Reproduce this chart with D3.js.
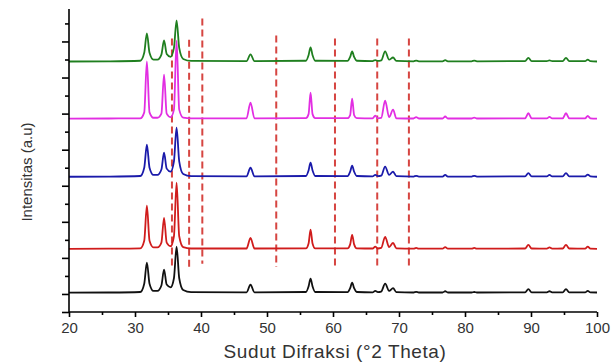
<!DOCTYPE html>
<html>
<head>
<meta charset="utf-8">
<script src="https://d3js.org/d3.v7.min.js"></script>
<style>
  body { margin: 0; background: #fff; }
  svg { display: block; font-family: "Liberation Sans", Arial, sans-serif; }
  .axis path, .axis line { stroke: #000; stroke-width: 1.6; }
  .axis text { fill: #333; font-size: 15px; }
</style>
</head>
<body>
<svg id="chart" width="612" height="363"></svg>
<script>
// 2 theta sample points (shared by all patterns)
var twoTheta = [20, 26, 30.8, 31.4, 31.8, 32.2, 32.8, 33.4, 34.0, 34.4, 34.8, 35.4, 35.9, 36.3, 36.7, 37.3, 38.5,
  46.9, 47.5, 48.1,
  55.9, 56.3, 56.6, 56.9, 57.3,
  62.2, 62.6, 62.9, 63.2, 63.6,
  66.0, 66.4, 66.8,
  67.3, 67.9, 68.5, 69.1, 69.6,
  72.2, 72.6, 73.0,
  76.6, 77.0, 77.4,
  81.0, 81.4, 81.8,
  89.1, 89.6, 90.1,
  92.4, 92.8, 93.2,
  94.8, 95.3, 95.8,
  98.2, 98.6, 99.0,
  100];

// intensities (a.u.) above each pattern's own baseline
var black = [0, 0.01, 0.04, 0.5, 1.67, 0.5, 0.1, 0.1, 0.4, 1.28, 0.45, 0.3, 0.8, 2.56, 0.8, 0.15, 0.03,
  0.02, 0.44, 0.02,
  0.04, 0.35, 0.78, 0.35, 0.04,
  0.03, 0.25, 0.56, 0.25, 0.04,
  0.02, 0.1, 0.03,
  0.06, 0.5, 0.1, 0.25, 0.03,
  0.01, 0.05, 0.01,
  0.01, 0.08, 0.01,
  0.01, 0.04, 0.01,
  0.02, 0.2, 0.02,
  0.02, 0.08, 0.02,
  0.02, 0.2, 0.02,
  0.02, 0.1, 0.02,
  0.01];
var red = [0, 0.01, 0.03, 0.45, 2.39, 0.45, 0.08, 0.08, 0.35, 1.72, 0.35, 0.15, 0.7, 3.67, 0.7, 0.1, 0.02,
  0.02, 0.61, 0.02,
  0.03, 0.3, 1.06, 0.3, 0.03,
  0.03, 0.25, 0.78, 0.25, 0.03,
  0.02, 0.12, 0.02,
  0.05, 0.67, 0.1, 0.33, 0.03,
  0.01, 0.05, 0.01,
  0.01, 0.1, 0.01,
  0.01, 0.05, 0.01,
  0.02, 0.22, 0.02,
  0.01, 0.08, 0.01,
  0.02, 0.22, 0.02,
  0.01, 0.12, 0.01,
  0];
var blue = [0, 0.01, 0.04, 0.5, 1.78, 0.5, 0.1, 0.1, 0.4, 1.33, 0.45, 0.28, 0.85, 2.72, 0.85, 0.15, 0.03,
  0.02, 0.5, 0.02,
  0.04, 0.35, 0.78, 0.35, 0.04,
  0.03, 0.28, 0.61, 0.28, 0.04,
  0.02, 0.1, 0.03,
  0.06, 0.56, 0.1, 0.28, 0.03,
  0.01, 0.05, 0.01,
  0.01, 0.1, 0.01,
  0.01, 0.05, 0.01,
  0.02, 0.2, 0.02,
  0.02, 0.1, 0.02,
  0.02, 0.2, 0.02,
  0.02, 0.12, 0.02,
  0];
var magenta = [0, 0.01, 0.02, 0.35, 3.17, 0.35, 0.05, 0.05, 0.28, 2.44, 0.28, 0.08, 0.5, 4.33, 0.5, 0.06, 0.02,
  0.02, 0.89, 0.02,
  0.03, 0.25, 1.44, 0.25, 0.03,
  0.03, 0.2, 1.11, 0.2, 0.03,
  0.02, 0.17, 0.02,
  0.04, 1.0, 0.08, 0.5, 0.02,
  0.01, 0.08, 0.01,
  0.01, 0.12, 0.01,
  0.01, 0.06, 0.01,
  0.02, 0.3, 0.02,
  0.02, 0.1, 0.02,
  0.02, 0.3, 0.02,
  0.02, 0.15, 0.02,
  0];
var green = [0, 0.01, 0.04, 0.48, 1.56, 0.48, 0.1, 0.1, 0.38, 1.17, 0.42, 0.26, 0.75, 2.28, 0.75, 0.14, 0.03,
  0.02, 0.39, 0.02,
  0.04, 0.35, 0.78, 0.35, 0.04,
  0.03, 0.25, 0.56, 0.25, 0.04,
  0.02, 0.08, 0.03,
  0.06, 0.56, 0.1, 0.22, 0.03,
  0.01, 0.05, 0.01,
  0.01, 0.08, 0.01,
  0.01, 0.05, 0.01,
  0.02, 0.2, 0.02,
  0.02, 0.06, 0.02,
  0.02, 0.2, 0.02,
  0.02, 0.1, 0.02,
  0];

// vertical stacking offset of each pattern (a.u.)
var offsets = [1.07, 3.5, 7.5, 10.72, 13.89];
var seriesColors = ["#111111", "#d01c1c", "#1a1aaa", "#e22ee2", "#1f7f1f"];

// red dashed reference lines
var refPos = [35.6, 38.2, 40.2, 51.4, 60.3, 66.7, 71.5];
var refTop = [15.17, 15.1, 16.28, 15.33, 15.17, 15.17, 15.17];
var refBottom = [2.5, 2.4, 2.67, 2.5, 2.4, 2.4, 2.45];

var xTicks = d3.range(20, 101, 5);
var yTicks = d3.range(0, 17, 1);

var svg = d3.select("#chart");
var x = d3.scaleLinear().domain([20, 100]).range([69, 597]);
var y = d3.scaleLinear().domain([0, 16.8]).range([312, 9]);

// dashed lines
svg.append("g").selectAll("line")
  .data(refPos)
  .enter().append("line")
    .attr("x1", function (d) { return x(d); })
    .attr("x2", function (d) { return x(d); })
    .attr("y1", function (d, i) { return y(refTop[i]); })
    .attr("y2", function (d, i) { return y(refBottom[i]); })
    .attr("stroke", "#d64541")
    .attr("stroke-width", 2)
    .attr("stroke-dasharray", "7,4");

// patterns
var series = [black, red, blue, magenta, green];
var line = d3.line()
  .curve(d3.curveMonotoneX);

series.forEach(function (vals, k) {
  line.x(function (d, i) { return x(twoTheta[i]); })
      .y(function (d) { return y(d + offsets[k]); });
  svg.append("path")
    .datum(vals)
    .attr("fill", "none")
    .attr("stroke", seriesColors[k])
    .attr("stroke-width", 1.8)
    .attr("stroke-linejoin", "round")
    .attr("d", line);
});

// axes
var xAxis = svg.append("g")
  .attr("class", "axis")
  .attr("transform", "translate(0,312)")
  .call(d3.axisBottom(x).tickValues(xTicks).tickSize(5).tickPadding(5)
    .tickFormat(function (d) { return d % 10 === 0 ? d : ""; }));
xAxis.select(".domain").attr("d", "M69,0H597");
xAxis.selectAll(".tick line").attr("y2", function (d) { return d % 10 === 0 ? 5 : 3; });

var yAxis = svg.append("g")
  .attr("class", "axis")
  .attr("transform", "translate(69,0)")
  .call(d3.axisLeft(y).tickValues(yTicks).tickFormat(""));
yAxis.select(".domain").attr("d", "M0,312V9");
yAxis.selectAll(".tick line").attr("x2", function (d) { return (d % 2 === 1 || d === 0) ? -7 : -4; });

// axis titles
svg.append("text")
  .attr("transform", "translate(32,172) rotate(-90)")
  .attr("text-anchor", "middle")
  .attr("font-size", 15)
  .attr("fill", "#333")
  .text("Intensitas (a.u)");

svg.append("text")
  .attr("x", 335)
  .attr("y", 358)
  .attr("text-anchor", "middle")
  .attr("font-size", 19)
  .attr("letter-spacing", 0.6)
  .attr("fill", "#333")
  .text("Sudut Difraksi (°2 Theta)");
</script>
</body>
</html>
